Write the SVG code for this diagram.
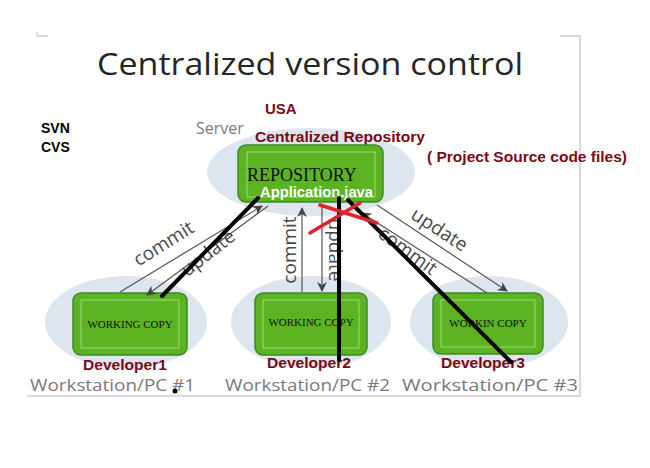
<svg xmlns="http://www.w3.org/2000/svg" width="650" height="468" viewBox="0 0 650 468">
<defs>
<style>
.title{font-family:"Open Sans","Liberation Sans",sans-serif;font-size:31px;fill:#262626}
.gray{font-family:"Open Sans","Liberation Sans",sans-serif;fill:#7a7a7a}
.red{font-family:"Liberation Sans",Arial,sans-serif;fill:#7a0a14}
.blk{font-family:"Liberation Sans",Arial,sans-serif;font-weight:bold;fill:#000}
.serif{font-family:"Liberation Serif","Times New Roman",serif;fill:#111}
.halo{fill:#dde5ee}
.box{fill:#5bb322;stroke:#3d8a25;stroke-width:1.5}
.inner{fill:none;stroke:#9fd77a;stroke-width:1}
.arr{stroke:#555;stroke-width:1.2;fill:none;marker-end:url(#ah)}
.lbl{font-family:"Open Sans","Liberation Sans",sans-serif;font-size:19px;fill:#4a4a4a}
.ink{stroke:#000;stroke-width:4;stroke-linecap:round;fill:none}
.x{stroke:#e0222a;stroke-width:3.5;stroke-linecap:round}
</style>
<marker id="ah" markerWidth="10" markerHeight="10" refX="9" refY="5" orient="auto" markerUnits="userSpaceOnUse">
<path d="M0,0 L10,5 L0,10 L3,5 Z" fill="#444"/>
</marker>
</defs>
<rect width="650" height="468" fill="#fff"/>
<g id="frame" stroke="#d0d0d0" stroke-width="1.5" fill="none">
<path d="M37,36 H48 M37,32 V36"/>
<path d="M560,36 H580 V396 H27"/>
</g>
<text class="title" x="97" y="75" textLength="426" lengthAdjust="spacingAndGlyphs">Centralized version control</text>
<text class="blk" x="41" y="133" font-size="14">SVN</text>
<text class="blk" x="41" y="152" font-size="14">CVS</text>

<g id="server">
<ellipse class="halo" cx="311" cy="172" rx="104" ry="44"/>
<text class="gray" x="196" y="134" font-size="16">Server</text>
<text class="red" x="265" y="114" font-size="15" font-weight="bold">USA</text>
<text class="red" x="255" y="142" font-size="15" font-weight="bold" textLength="170" lengthAdjust="spacingAndGlyphs">Centralized Repository</text>
<text class="red" x="427" y="162" font-size="14" font-weight="bold" textLength="200" lengthAdjust="spacingAndGlyphs">( Project Source code files)</text>
<rect class="box" x="238" y="145" width="145" height="57" rx="8"/>
<rect class="inner" x="247" y="152" width="128" height="45"/>
<text class="serif" x="247" y="181" font-size="18">REPOSITORY</text>
<text x="260" y="197" font-family="Liberation Sans,Arial,sans-serif" font-size="14" font-weight="bold" fill="#fff" textLength="113" lengthAdjust="spacingAndGlyphs">Application.java</text>
</g>

<g id="pc1">
<ellipse class="halo" cx="126" cy="322" rx="81" ry="46"/>
<rect class="box" x="73" y="293" width="114" height="62" rx="8"/>
<rect class="inner" x="81" y="300" width="98" height="48"/>
<text class="serif" x="130" y="328" font-size="11" text-anchor="middle">WORKING COPY</text>
<text class="red" x="83" y="370" font-size="14" font-weight="bold" textLength="84" lengthAdjust="spacingAndGlyphs">Developer1</text>
<text class="gray" x="30" y="391" font-size="17" textLength="165" lengthAdjust="spacingAndGlyphs">Workstation/PC #1</text>
</g>
<g id="pc2">
<ellipse class="halo" cx="311" cy="322" rx="80" ry="46"/>
<rect class="box" x="255" y="293" width="112" height="62" rx="8"/>
<rect class="inner" x="263" y="300" width="96" height="48"/>
<text class="serif" x="311" y="326" font-size="11" text-anchor="middle">WORKING COPY</text>
<text class="red" x="267" y="368" font-size="14" font-weight="bold" textLength="84" lengthAdjust="spacingAndGlyphs">Developer2</text>
<text class="gray" x="225" y="391" font-size="17" textLength="165" lengthAdjust="spacingAndGlyphs">Workstation/PC #2</text>
</g>
<g id="pc3">
<ellipse class="halo" cx="489" cy="322" rx="79" ry="46"/>
<rect class="box" x="433" y="293" width="110" height="61" rx="8"/>
<rect class="inner" x="441" y="300" width="94" height="47"/>
<text class="serif" x="488" y="327" font-size="11" text-anchor="middle">WORKIN COPY</text>
<text class="red" x="441" y="368" font-size="14" font-weight="bold" textLength="84" lengthAdjust="spacingAndGlyphs">Developer3</text>
<text class="gray" x="402" y="391" font-size="17" textLength="176" lengthAdjust="spacingAndGlyphs">Workstation/PC #3</text>
</g>

<g id="connectors">
<path class="arr" d="M120,292 L262,206"/>
<path class="arr" d="M268,206 L147,295"/>
<path class="arr" d="M302,292 L302,208"/>
<path class="arr" d="M322,206 L322,291"/>
<path class="arr" d="M377,205 L507,291"/>
<path class="arr" d="M487,293 L362,213"/>
<text class="lbl" transform="translate(167,249) rotate(-32)" text-anchor="middle">commit</text>
<text class="lbl" transform="translate(212,258) rotate(-38)" text-anchor="middle">update</text>
<text class="lbl" transform="translate(296,250) rotate(-90)" text-anchor="middle">commit</text>
<text class="lbl" transform="translate(329,250) rotate(90)" text-anchor="middle">update</text>
<text class="lbl" transform="translate(436,235) rotate(33)" text-anchor="middle">update</text>
<text class="lbl" transform="translate(404,256) rotate(36)" text-anchor="middle">commit</text>
</g>

<g id="annotations">
<path class="ink" d="M162,296 L258,198"/>
<path class="ink" d="M339,198 L339,360"/>
<path class="ink" d="M348,200 L511,362"/>
<circle cx="175" cy="391" r="2.5" fill="#000"/>
<path class="x" d="M310,233 L360,203"/>
<path class="x" d="M320,205 L377,223"/>
</g>
</svg>
